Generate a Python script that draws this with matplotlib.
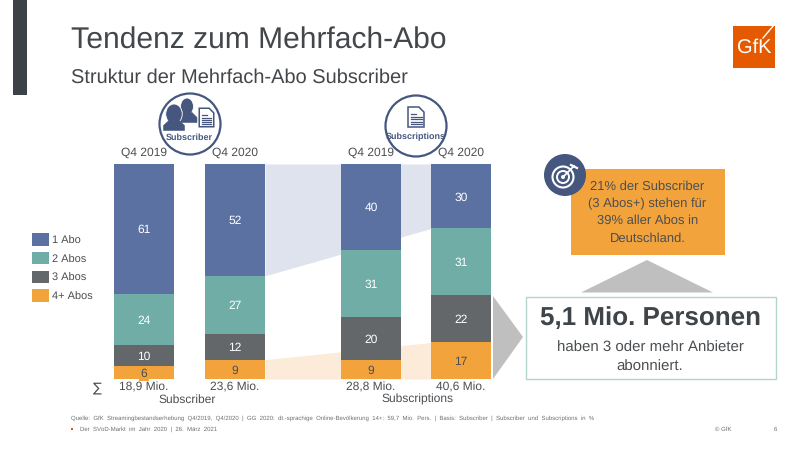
import matplotlib
matplotlib.use('Agg')
import matplotlib.pyplot as plt
from matplotlib.patches import Rectangle, Polygon, Circle, Ellipse

plt.rcParams['font.family'] = ['Liberation Sans', 'DejaVu Sans']
plt.rcParams['text.hinting'] = 'none'
plt.rcParams['text.hinting_factor'] = 1

# Data
quarters = ['Q4 2019', 'Q4 2020', 'Q4 2019', 'Q4 2020']
totals = ['18,9 Mio.', '23,6 Mio.', '28,8 Mio.', '40,6 Mio.']
series_names = ['4+ Abos', '3 Abos', '2 Abos', '1 Abo']
abo4 = [6, 9, 9, 17]
abo3 = [10, 12, 20, 22]
abo2 = [24, 27, 31, 31]
abo1 = [61, 52, 40, 30]
group_names = ['Subscriber', 'Subscriptions']

BLUE = '#5b71a1'
TEAL = '#6fada6'
GRAY = '#63676a'
ORANGE = '#f3a33b'
TEXT = '#4b4f52'
NAVY = '#45567f'
colors = [ORANGE, GRAY, TEAL, BLUE]
label_colors = [TEXT, 'white', 'white', 'white']

fig = plt.figure(figsize=(8, 4.5), dpi=100)

# page layer in pixel coordinates
bg = fig.add_axes([0, 0, 1, 1])
bg.set_xlim(0, 800)
bg.set_ylim(450, 0)
bg.axis('off')

# bar layer, x in page pixels, y in percent
ax = fig.add_axes([114 / 800, 1 - 379 / 450, 377 / 800, 215 / 450])
ax.set_xlim(114, 491)
ax.set_ylim(0, 100)
ax.axis('off')
ax.patch.set_alpha(0)

centers = [144, 235, 371, 461]
bar_w = 60
stack = [abo4, abo3, abo2, abo1]
sums = [sum(s[i] for s in stack) for i in range(4)]

# connecting bands from Q4 2020 subscriber to Q4 2020 subscriptions
x_a = centers[1] + bar_w / 2
x_b = centers[3] - bar_w / 2
top_a = abo4[1] / sums[1] * 100
top_b = abo4[3] / sums[3] * 100
ax.fill_between([x_a, x_b], 0, [top_a, top_b], color='#fbebd8', lw=0, zorder=1)
low_a = 100 - abo1[1] / sums[1] * 100
low_b = 100 - abo1[3] / sums[3] * 100
ax.fill_between([x_a, x_b], [low_a, low_b], 100, color='#dfe3ed', lw=0, zorder=1)

bottom = [0, 0, 0, 0]
for vals, col, lab_col in zip(stack, colors, label_colors):
    heights = [v / t * 100 for v, t in zip(vals, sums)]
    ax.bar(centers, heights, bar_w, bottom=bottom, color=col, lw=0, zorder=2)
    for c, v, h, b in zip(centers, vals, heights, bottom):
        box = dict(fc=ORANGE, lw=0, pad=1) if col == ORANGE else None
        ax.text(c, b + h / 2, str(v), color=lab_col, fontsize=8.5,
                ha='center', va='center_baseline', zorder=3, bbox=box, clip_on=False)
    bottom = [b + h for b, h in zip(bottom, heights)]

for c, q, t in zip(centers, quarters, totals):
    bg.text(c, 153, q, color=TEXT, fontsize=8.3, ha='center', va='center')
    bg.text(c, 387.5, t, color=TEXT, fontsize=8.6, ha='center', va='center')
bg.text(97, 388, '∑', color=TEXT, fontsize=9.5, ha='center', va='center', family='DejaVu Sans')
bg.text(187, 400, group_names[0], color=TEXT, fontsize=8.5, ha='center', va='center')
bg.text(417, 399.5, group_names[1], color=TEXT, fontsize=8.4, ha='center', va='center')

# header
bg.add_patch(Rectangle((12.5, 0), 14.5, 95, color='#3c4248', lw=0))
bg.text(71, 49, 'Tendenz zum Mehrfach-Abo', color='#43474b', fontsize=21.4, va='baseline')
bg.text(71, 83, 'Struktur der Mehrfach-Abo Subscriber', color='#43474b', fontsize=14.1, va='baseline')

# logo
bg.add_patch(Rectangle((733, 26), 42, 42, color='#e55a00', lw=0))
bg.plot([763, 774], [38, 25], color='white', lw=1)
bg.text(754.5, 48, 'GfK', color='white', fontsize=14.5, ha='center', va='center')

# legend
for y, text_y, name, col in zip([295.5, 277, 258, 239.5], [297, 278, 260, 241], series_names, colors):
    bg.add_patch(Rectangle((32, y - 6.2), 17, 12.5, color=col, lw=0))
    bg.text(52, text_y, name, color=TEXT, fontsize=8.2, va='center')


def doc(cx, cy, w, h):
    x0, y0 = cx - w / 2, cy - h / 2
    cut = w * 0.32
    bg.add_patch(Polygon([(x0, y0), (x0 + w - cut, y0), (x0 + w, y0 + cut),
                          (x0 + w, y0 + h), (x0, y0 + h)], closed=True,
                         fc='white', ec=NAVY, lw=1.1, zorder=6))
    for f in [0.5, 0.62, 0.74, 0.86]:
        bg.plot([x0 + 2.5, x0 + w - 2.5], [y0 + h * f] * 2, color=NAVY, lw=0.9, zorder=7)
    bg.plot([x0 + 2.5, x0 + w * 0.5], [y0 + h * 0.36] * 2, color=NAVY, lw=0.9, zorder=7)


def person(cx, head_y, head_w, head_h, shoulder, foot_y, z):
    bg.add_patch(Ellipse((cx, head_y), head_w, head_h, fc=NAVY, ec='white', lw=0.6, zorder=z))
    bg.add_patch(Polygon([(cx - shoulder, foot_y), (cx - shoulder, foot_y - 5),
                          (cx - 5, foot_y - 10), (cx + 5, foot_y - 10),
                          (cx + shoulder, foot_y - 5), (cx + shoulder, foot_y)],
                         closed=True, fc=NAVY, ec=NAVY, lw=0.4, zorder=z))


# subscriber icon
bg.add_patch(Circle((190, 124), 30.5, fc='white', ec=NAVY, lw=1.6, zorder=4))
person(187, 106.5, 13, 17, 10, 122.5, 5)
person(174, 114, 16.5, 20, 10.5, 130.5, 5.5)
doc(206.5, 117.5, 14.5, 18.5)
bg.text(189, 138, group_names[0], color=NAVY, fontsize=6.5, weight='bold', ha='center', va='center', zorder=8)

# subscriptions icon
bg.add_patch(Circle((416, 126), 30.5, fc='white', ec=NAVY, lw=1.6, zorder=4))
doc(416, 117, 16, 20)
bg.text(416, 136.5, group_names[1], color=NAVY, fontsize=6.5, weight='bold', ha='center', va='center', zorder=8)

# arrows
bg.add_patch(Polygon([(493, 296), (523, 337), (493, 379)], closed=True, color='#bfbfbf', lw=0))
bg.add_patch(Polygon([(581, 292.5), (647, 260), (713, 292.5)], closed=True, color='#bfbfbf', lw=0))

# callout boxes
bg.add_patch(Rectangle((571, 169), 154, 86, color=ORANGE, lw=0))
bg.text(647.5, 212.5, '21% der Subscriber\n(3 Abos+) stehen für\n39% aller Abos in\nDeutschland.', color=TEXT,
        fontsize=9.65, ha='center', va='center', linespacing=1.52)
bg.add_patch(Rectangle((525.5, 296.5), 250, 82, fc='white', ec='#b4d4d0', lw=1))
bg.text(650.5, 318.5, '5,1 Mio. Personen', color='#3f4448', fontsize=19, weight='bold', ha='center', va='center')
bg.text(650, 357.5, 'haben 3 oder mehr Anbieter\nabonniert.', color=TEXT, fontsize=10.45,
        ha='center', va='center', linespacing=1.5)

# target icon
bg.add_patch(Circle((565, 175), 21, color=NAVY, lw=0, zorder=5))
bg.add_patch(Circle((563, 177), 10.5, fc='none', ec='white', lw=1.5, zorder=6))
bg.add_patch(Circle((563, 177), 6, fc='none', ec='white', lw=1.4, zorder=6))
bg.add_patch(Circle((563, 177), 2, fc='white', lw=0, zorder=6))
bg.plot([563, 574], [177, 166], color='white', lw=1.3, zorder=7)
bg.plot([571, 577], [165, 168], color='white', lw=1.6, zorder=7)

# footer, wide word gaps as in the slide
source = 'Quelle: GfK Streamingbestandserhebung Q4/2019, Q4/2020 | GG 2020: dt.-sprachige Online-Bevölkerung 14+: 59,7 Mio. Pers. | Basis: Subscriber | Subscriber und Subscriptions in %'
event = 'Der SVoD-Markt im Jahr 2020 | 26. März 2021'
bg.text(71, 418.5, source.replace(' ', '  '), color='#6b6f72', fontsize=4.6, va='center')
bg.add_patch(Rectangle((71, 428), 2, 2, color='#e55a00', lw=0))
bg.text(80, 429, event.replace(' ', '  '), color='#6b6f72', fontsize=4.6, va='center')
bg.text(715, 429, '© GfK', color='#6b6f72', fontsize=4.6, va='center')
bg.text(774, 429, '6', color='#6b6f72', fontsize=4.6, va='center')

fig.savefig('out.png', dpi=100)
plt.close(fig)
